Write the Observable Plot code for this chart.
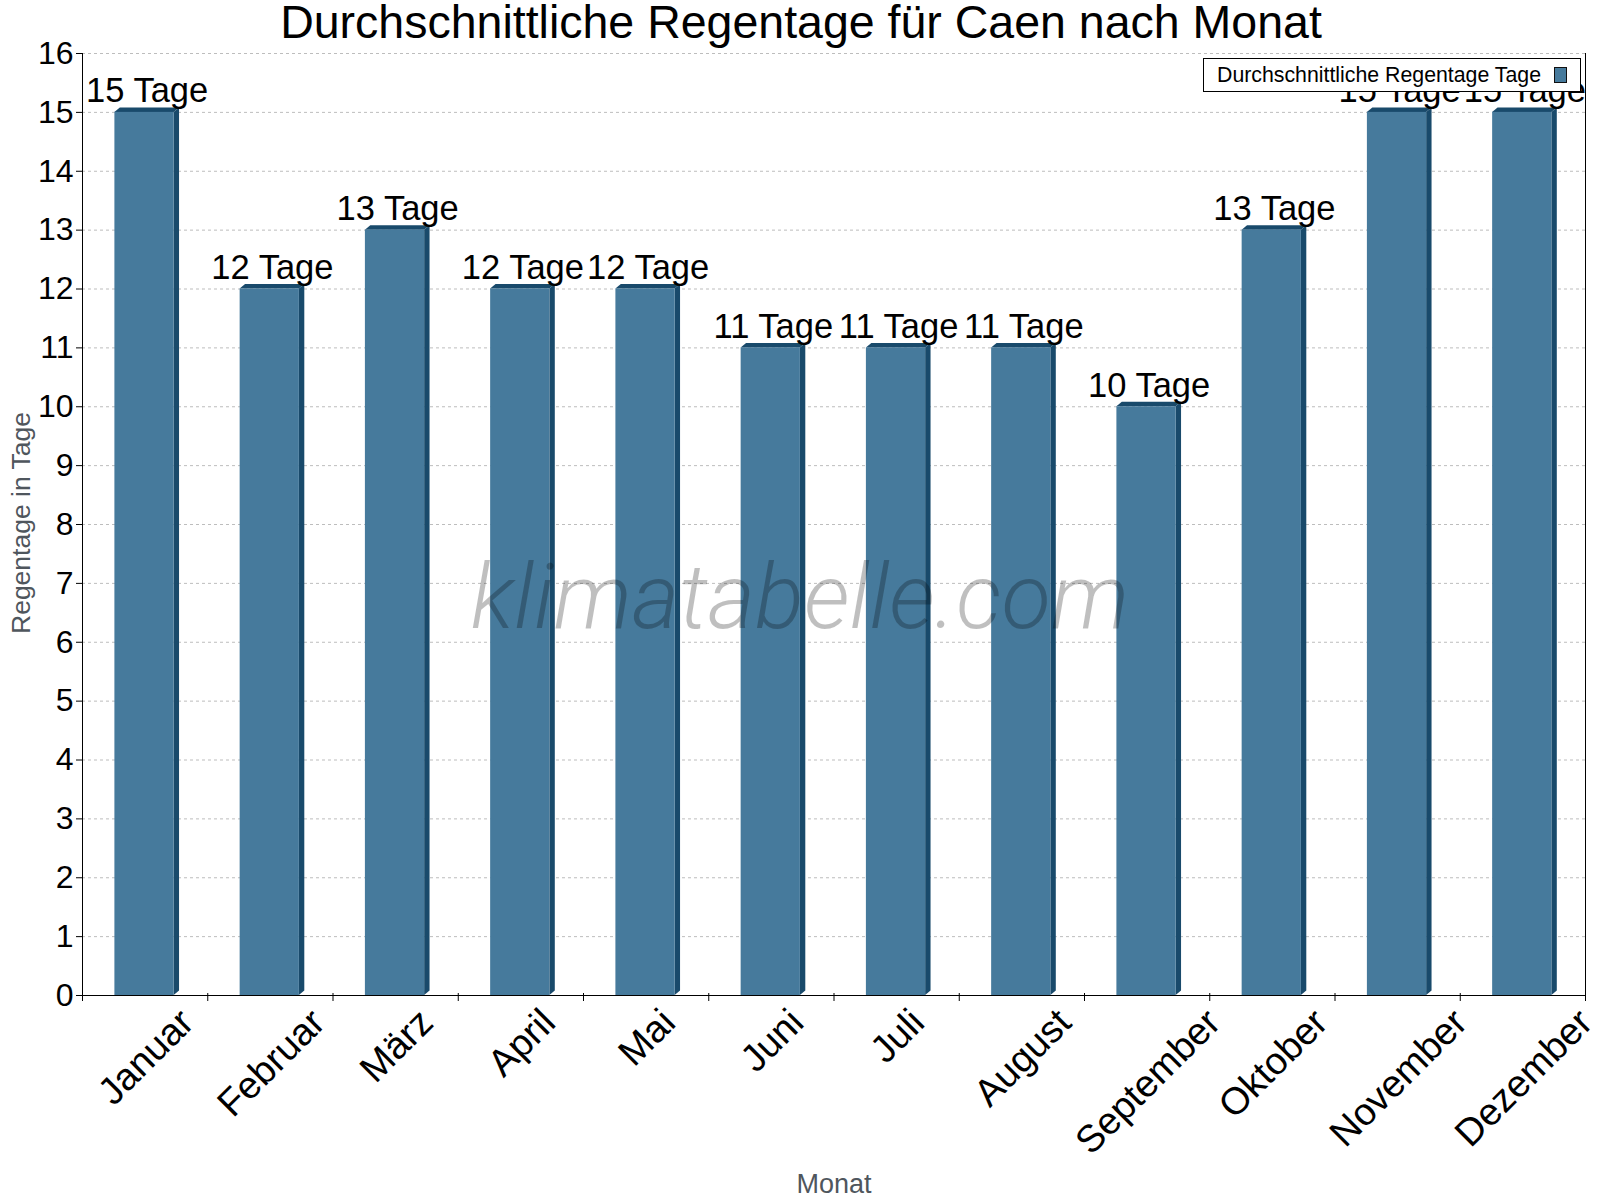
<!DOCTYPE html>
<html>
<head>
<meta charset="utf-8">
<script src="https://cdn.jsdelivr.net/npm/d3@7"></script>
<script src="https://cdn.jsdelivr.net/npm/@observablehq/plot@0.6"></script>
<style>
  body { margin: 0; background: #fff; }
  #chart svg { display: block; }
</style>
</head>
<body>
<div id="chart"></div>
<script>
// Average number of rainy days per month in Caen
const months = ["Januar", "Februar", "März", "April", "Mai", "Juni",
                "Juli", "August", "September", "Oktober", "November", "Dezember"];
const rainDays = [15, 12, 13, 12, 12, 11, 11, 11, 10, 13, 15, 15];
const valueLabels = rainDays.map(v => `${v} Tage`);
const yTicks = d3.range(0, 17);
const chartTitle = "Durchschnittliche Regentage für Caen nach Monat";
const yTitle = "Regentage in Tage";
const xTitle = "Monat";
const legendLabel = "Durchschnittliche Regentage Tage";
const watermarkText = "klimatabelle.com";

const rows = months.map((month, i) => ({i, month, days: rainDays[i], label: valueLabels[i]}));

const FONT = "'Liberation Sans', Arial, Helvetica, sans-serif";
const FRONT = "#467a9c";
const SHADE = "#194a6b";
const INSET_L = 32.4, INSET_R = 33.6;   // bar front face inside each month slot
const DEPTH_X = 5.4, DEPTH_Y = 4.5;     // extrusion of the pseudo-3D bars
const LABEL_SIZE = 38;                  // month tick labels
const VALUE_SIZE = 34.5;                // value labels above the bars
const CAP = 0.716;                      // cap height ratio of the font
const LABEL_TOP = 1005;                 // top of the rotated label boxes

// Month labels: each rotated box is centred under its slot with a common top edge
const ctx = document.createElement("canvas").getContext("2d");
ctx.font = `${LABEL_SIZE}px 'Liberation Sans'`;
const X_AXIS_Y = 995;
const monthLabelMarks = rows.map(r => {
  const w = ctx.measureText(r.month).width;
  const cap = CAP * LABEL_SIZE;
  const k = 0.32 * LABEL_SIZE * Math.SQRT1_2;
  const dx = Math.SQRT1_2 * (w + cap) / 2 - k;
  const dy = LABEL_TOP + Math.SQRT1_2 * cap - k - X_AXIS_Y;
  return Plot.text([r], {
    x: d => d.i + 0.5, y: () => 0, text: "month",
    rotate: -45, textAnchor: "end", fontSize: LABEL_SIZE, fill: "black",
    dx, dy
  });
});

// Top and side faces of the bars
function barFaces(index, scales) {
  const g = d3.create("svg:g");
  for (const i of index) {
    const d = rows[i];
    const x1 = scales.x(d.i) + INSET_L;
    const x2 = scales.x(d.i + 1) - INSET_R;
    const yT = scales.y(d.days);
    const yB = scales.y(0);
    g.append("polygon")
      .attr("points", [[x1, yT], [x1 + DEPTH_X, yT - DEPTH_Y], [x2 + DEPTH_X, yT - DEPTH_Y], [x2, yT]].join(" "))
      .attr("fill", SHADE);
    g.append("polygon")
      .attr("points", [[x2, yT], [x2 + DEPTH_X, yT - DEPTH_Y], [x2 + DEPTH_X, yB - DEPTH_Y], [x2, yB]].join(" "))
      .attr("fill", SHADE);
  }
  return g.node();
}

const plot = Plot.plot({
  width: 1600,
  height: 1200,
  marginLeft: 82,
  marginRight: 15,
  marginTop: 53,
  marginBottom: 205,
  style: {fontFamily: FONT, background: "white", color: "black", overflow: "visible"},
  x: {type: "linear", domain: [0, 12], axis: null},
  y: {domain: [0, 16], axis: null},
  marks: [
    Plot.gridY({ticks: yTicks.slice(1), stroke: "#bdbdbd", strokeOpacity: 1, strokeDasharray: "3,3"}),
    Plot.rectY(rows, {x1: "i", x2: d => d.i + 1, y: "days", render: barFaces}),
    Plot.rectY(rows, {x1: "i", x2: d => d.i + 1, y: "days", fill: FRONT, insetLeft: INSET_L, insetRight: INSET_R}),
    Plot.ruleY([0], {stroke: "black"}),
    Plot.ruleX([0, 12], {stroke: "black"}),
    Plot.axisY({ticks: yTicks, tickSize: 6, tickPadding: 3, fontSize: 32, tickFormat: d => String(d), label: null, stroke: "black", fill: "black"}),
    Plot.axisX({ticks: d3.range(13), tickSize: 6, tickFormat: () => "", label: null, stroke: "black"}),
    Plot.axisX({ticks: d3.range(13), tickSize: 3, anchor: "top", tickFormat: () => "", label: null, stroke: "black", dy: 942}),
    Plot.text(rows, {x: d => d.i + 0.5, y: "days", text: "label", fontSize: VALUE_SIZE, fill: "black", dx: 2, dy: -10 - 0.32 * VALUE_SIZE}),
    ...monthLabelMarks
  ]
});

const svg = d3.select(plot);

// Titles
svg.append("text")
  .attr("x", 801).attr("y", 38)
  .attr("text-anchor", "middle")
  .attr("font-family", FONT).attr("font-size", 46.5).attr("fill", "black")
  .text(chartTitle);

svg.append("text")
  .attr("transform", "translate(30,523) rotate(-90)")
  .attr("text-anchor", "middle")
  .attr("font-family", FONT).attr("font-size", 26.5).attr("fill", "#4f565d")
  .text(yTitle);

svg.append("text")
  .attr("x", 834).attr("y", 1193)
  .attr("text-anchor", "middle")
  .attr("font-family", FONT).attr("font-size", 27).attr("fill", "#4f565d")
  .text(xTitle);

// Watermark
svg.append("text")
  .attr("x", 800).attr("y", 628)
  .attr("text-anchor", "middle")
  .attr("font-family", "'Roboto Light', Roboto, 'Open Sans', sans-serif")
  .attr("font-style", "italic").attr("font-weight", 300)
  .attr("font-size", 91).attr("fill", "black").attr("fill-opacity", 0.25)
  .text(watermarkText);

// Legend box
const lg = svg.append("g").attr("text-anchor", "start");
lg.append("rect")
  .attr("x", 1203.5).attr("y", 58.5).attr("width", 377).attr("height", 33)
  .attr("fill", "white").attr("stroke", "black");
lg.append("text")
  .attr("x", 1217).attr("y", 81.5)
  .attr("text-anchor", "start")
  .attr("font-family", FONT).attr("font-size", 21.3).attr("fill", "black")
  .text(legendLabel);
lg.append("rect")
  .attr("x", 1554.5).attr("y", 67.5).attr("width", 12).attr("height", 15)
  .attr("fill", FRONT).attr("stroke", "#111");

document.getElementById("chart").appendChild(plot);
</script>
</body>
</html>
